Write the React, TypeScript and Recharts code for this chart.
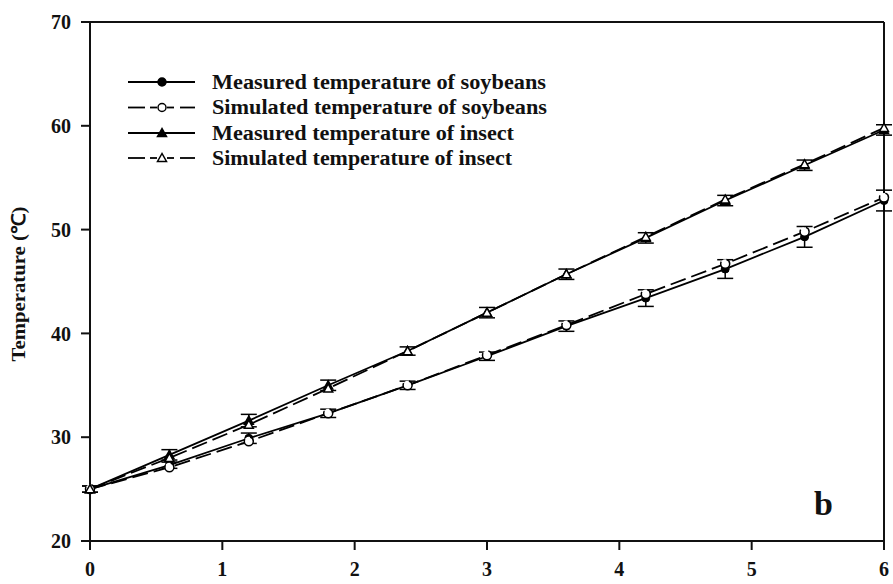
import React from 'react'
import { ComposedChart, Line, XAxis, YAxis, ReferenceLine, ErrorBar, Customized } from 'recharts'

const times = [0, 0.6, 1.2, 1.8, 2.4, 3.0, 3.6, 4.2, 4.8, 5.4, 6.0]
const soyMeasured = [25.0, 27.3, 29.9, 32.3, 35.0, 37.8, 40.7, 43.4, 46.2, 49.3, 52.8]
const soySimulated = [25.0, 27.1, 29.6, 32.3, 35.0, 37.9, 40.8, 43.8, 46.7, 49.8, 53.1]
const insectMeasured = [25.0, 28.3, 31.6, 35.0, 38.3, 42.0, 45.7, 49.2, 52.8, 56.2, 59.6]
const insectSimulated = [25.0, 28.0, 31.2, 34.7, 38.3, 42.0, 45.7, 49.3, 52.9, 56.3, 59.8]
const soyErr = [0.3, 0.3, 0.5, 0.4, 0.4, 0.4, 0.5, 0.8, 0.9, 1.0, 1.0]
const insectErr = [0.3, 0.5, 0.6, 0.5, 0.4, 0.5, 0.5, 0.5, 0.5, 0.5, 0.5]

const xTicks = [0, 1, 2, 3, 4, 5, 6]
const yTicks = [20, 30, 40, 50, 60, 70]

const legendItems = [
  { label: 'Measured temperature of soybeans', shape: 'circle', filled: true, dashed: false, len: 334 },
  { label: 'Simulated temperature of soybeans', shape: 'circle', filled: false, dashed: true, len: 335 },
  { label: 'Measured temperature of insect', shape: 'triangle', filled: true, dashed: false, len: 302 },
  { label: 'Simulated temperature of insect', shape: 'triangle', filled: false, dashed: true, len: 300 },
]

const data = times.map((t, i) => ({
  t,
  soyM: soyMeasured[i],
  soyS: soySimulated[i],
  insM: insectMeasured[i],
  insS: insectSimulated[i],
  soyE: soyErr[i],
  insE: insectErr[i],
}))

const FONT = '"Liberation Serif", "Times New Roman", serif'

const triangleDot = (filled: boolean) => (props: any) => {
  const { cx, cy, index } = props
  if (cx == null || cy == null) return <g key={index} />
  const s = 4.5
  return (
    <polygon
      key={index}
      points={`${cx},${cy - s} ${cx - s},${cy + s * 0.8} ${cx + s},${cy + s * 0.8}`}
      fill={filled ? '#000' : '#fff'}
      stroke="#000"
      strokeWidth={1.5}
    />
  )
}

// legend, y title and panel letter drawn straight into the svg
const Decorations = () => {
  const rowY = [82, 107.5, 133, 158]
  return (
    <g fontFamily={FONT} fontWeight="bold" fill="#111">
      {legendItems.map((it, i) => {
        const y = rowY[i]
        return (
          <g key={it.label}>
            {it.dashed ? (
              <g stroke="#000" strokeWidth={1.8}>
                <line x1={128} y1={y} x2={145} y2={y} />
                <line x1={150} y1={y} x2={157} y2={y} />
                <line x1={167} y1={y} x2={174} y2={y} />
                <line x1={180} y1={y} x2={195} y2={y} />
              </g>
            ) : (
              <line x1={128} y1={y} x2={195} y2={y} stroke="#000" strokeWidth={1.8} />
            )}
            {it.shape === 'circle' ? (
              <circle cx={162} cy={y} r={4} fill={it.filled ? '#000' : '#fff'} stroke="#000" strokeWidth={1.5} />
            ) : (
              <polygon
                points={`162,${y - 4.5} 157.5,${y + 3.5} 166.5,${y + 3.5}`}
                fill={it.filled ? '#000' : '#fff'}
                stroke="#000"
                strokeWidth={1.5}
              />
            )}
            <text x={212} y={y + 6.5} fontSize={20} textLength={it.len} lengthAdjust="spacingAndGlyphs">
              {it.label}
            </text>
          </g>
        )
      })}
      <text
        x={0}
        y={0}
        transform="translate(25,284) rotate(-90)"
        textAnchor="middle"
        fontSize={19}
        textLength={155}
        lengthAdjust="spacingAndGlyphs"
      >
        Temperature (℃)
      </text>
      <text x={814} y={515} fontSize={34}>
        b
      </text>
    </g>
  )
}

export default function App() {
  const tickStyle = { fill: '#111', fontSize: 20, fontWeight: 'bold', fontFamily: FONT }
  return (
    <div style={{ width: 893, height: 584 }}>
      <style>{'body{margin:0}'}</style>
      <ComposedChart width={893} height={584} data={data} margin={{ top: 22, right: 9, bottom: 1, left: 0 }}>
        <XAxis
          dataKey="t"
          type="number"
          domain={[0, 6]}
          ticks={xTicks}
          stroke="#111"
          strokeWidth={2}
          tickSize={9}
          tickMargin={12}
          tick={tickStyle}
          height={42}
          interval={0}
        />
        <YAxis
          type="number"
          domain={[20, 70]}
          ticks={yTicks}
          stroke="#111"
          strokeWidth={2}
          tickSize={9}
          tickMargin={10}
          tick={tickStyle}
          width={90}
        />
        <ReferenceLine y={70} stroke="#111" strokeWidth={2} />
        <ReferenceLine x={6} stroke="#111" strokeWidth={2} />
        <Line
          dataKey="soyM"
          type="linear"
          stroke="#000"
          strokeWidth={1.8}
          dot={{ r: 4, fill: '#000', stroke: '#000', strokeWidth: 1 }}
          isAnimationActive={false}
        >
          <ErrorBar dataKey="soyE" width={8} stroke="#000" strokeWidth={1.5} direction="y" />
        </Line>
        <Line
          dataKey="insM"
          type="linear"
          stroke="#000"
          strokeWidth={1.8}
          dot={triangleDot(true)}
          isAnimationActive={false}
        >
          <ErrorBar dataKey="insE" width={8} stroke="#000" strokeWidth={1.5} direction="y" />
        </Line>
        <Line
          dataKey="soyS"
          type="linear"
          stroke="#000"
          strokeWidth={1.8}
          strokeDasharray="16 6"
          dot={{ r: 4.5, fill: '#fff', stroke: '#000', strokeWidth: 1.5 }}
          isAnimationActive={false}
        />
        <Line
          dataKey="insS"
          type="linear"
          stroke="#000"
          strokeWidth={1.8}
          strokeDasharray="16 6"
          dot={triangleDot(false)}
          isAnimationActive={false}
        />
        <Customized component={Decorations} />
      </ComposedChart>
    </div>
  )
}
